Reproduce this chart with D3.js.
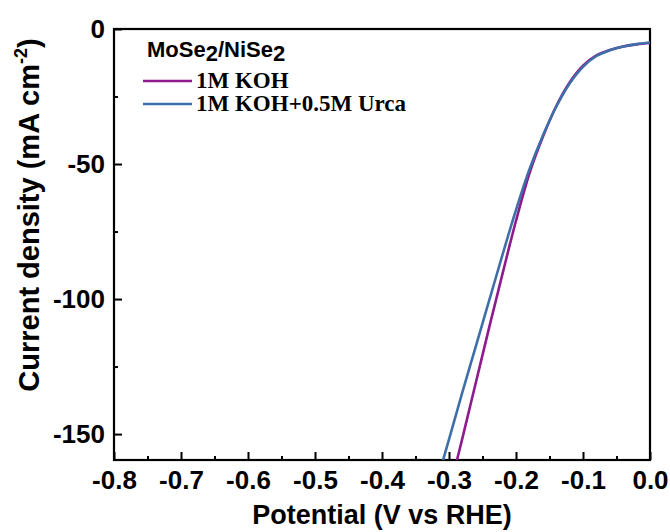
<!DOCTYPE html>
<html lang="en">

<head>
  <meta charset="UTF-8">
  <title>MoSe2/NiSe2 LSV</title>
  <style>
    body { margin: 0; background: #fff; }
  </style>
</head>

<body>
  <script src="https://d3js.org/d3.v7.min.js"></script>
  <script>
    // data
    const potKOH = [0.000, -0.020, -0.040, -0.060, -0.080, -0.100, -0.120, -0.140, -0.160, -0.180, -0.200, -0.220, -0.240, -0.260, -0.280, -0.292];
    const curKOH = [-5.2, -5.7, -6.5, -7.8, -9.8, -13.6, -19.8, -28.6, -40.0, -53.5, -71.0, -90.5, -110.5, -131.0, -151.5, -163.5];
    const potUrea = [0.000, -0.020, -0.040, -0.060, -0.080, -0.100, -0.120, -0.140, -0.160, -0.180, -0.200, -0.220, -0.240, -0.260, -0.280, -0.300, -0.314];
    const curUrea = [-5.0, -5.6, -6.5, -7.9, -10.0, -14.0, -20.2, -28.8, -39.5, -52.0, -67.0, -83.5, -100.5, -117.5, -134.5, -152.0, -164.0];
    const xTicks = [-0.8, -0.7, -0.6, -0.5, -0.4, -0.3, -0.2, -0.1, 0.0];
    const yTicks = [0, -50, -100, -150];
    const seriesNames = ['1M KOH', '1M KOH+0.5M Urca'];

    const width = 670, height = 532;
    const margin = { top: 29, right: 20, bottom: 72, left: 114 };
    const colKOH = '#8E1A8E';
    const colUrea = '#3E6FA8';

    let svg = d3.select('body').append('svg')
      .attr('width', width)
      .attr('height', height);

    let xScale = d3.scaleLinear().domain([-0.8, 0]).range([margin.left, width - margin.right]);
    let yScale = d3.scaleLinear().domain([-159.6, 0]).range([height - margin.bottom, margin.top]);
    const x0 = xScale.range()[0], x1 = xScale.range()[1];
    const yb = yScale.range()[0], yt = yScale.range()[1];

    svg.append('clipPath').attr('id', 'clip')
      .append('rect').attr('x', x0).attr('y', yt).attr('width', x1 - x0).attr('height', yb - yt);

    // minor ticks
    const xMinor = xTicks.slice(0, -1).map(d => d + 0.05);
    const yMinor = [-25, -75, -125];
    svg.append('g').attr('transform', `translate(0,${yb})`)
      .call(d3.axisBottom(xScale).tickValues(xMinor).tickSize(-4).tickFormat(''))
      .call(g => g.select('.domain').remove())
      .call(g => g.selectAll('line').attr('stroke-width', 2));
    svg.append('g').attr('transform', `translate(${x0},0)`)
      .call(d3.axisLeft(yScale).tickValues(yMinor).tickSize(-4).tickFormat(''))
      .call(g => g.select('.domain').remove())
      .call(g => g.selectAll('line').attr('stroke-width', 2));

    // major axes
    svg.append('g').attr('transform', `translate(0,${yb})`)
      .call(d3.axisBottom(xScale).tickValues(xTicks).tickSize(-8).tickPadding(11))
      .call(g => g.select('.domain').remove())
      .call(g => g.selectAll('line').attr('stroke-width', 2))
      .call(g => g.selectAll('text')
        .attr('font-family', 'Liberation Sans, Arial, sans-serif')
        .attr('font-weight', 'bold')
        .attr('font-size', 26)
        .attr('fill', '#000')
        .text(d => d3.format('.1f')(d).replace('−', '-')));
    svg.append('g').attr('transform', `translate(${x0},0)`)
      .call(d3.axisLeft(yScale).tickValues(yTicks).tickSize(-8).tickPadding(9))
      .call(g => g.select('.domain').remove())
      .call(g => g.selectAll('line').attr('stroke-width', 2))
      .call(g => g.selectAll('text')
        .attr('font-family', 'Liberation Sans, Arial, sans-serif')
        .attr('font-weight', 'bold')
        .attr('font-size', 26)
        .attr('fill', '#000')
        .text(d => String(d)));

    // frame
    svg.append('rect')
      .attr('x', x0).attr('y', yt)
      .attr('width', x1 - x0).attr('height', yb - yt)
      .attr('fill', 'none').attr('stroke', '#000').attr('stroke-width', 2.2);

    // curves
    const line = d3.line().curve(d3.curveCatmullRom)
      .x(d => xScale(d[0])).y(d => yScale(d[1]));
    let curves = svg.append('g').attr('clip-path', 'url(#clip)');
    curves.append('path')
      .datum(potKOH.map((p, i) => [p, curKOH[i]]))
      .attr('d', line)
      .attr('fill', 'none').attr('stroke', colKOH).attr('stroke-width', 2.6);
    curves.append('path')
      .datum(potUrea.map((p, i) => [p, curUrea[i]]))
      .attr('d', line)
      .attr('fill', 'none').attr('stroke', colUrea).attr('stroke-width', 2.6);

    // axis titles
    svg.append('text')
      .attr('x', (x0 + x1) / 2).attr('y', 524)
      .attr('text-anchor', 'middle')
      .attr('font-family', 'Liberation Sans, Arial, sans-serif')
      .attr('font-weight', 'bold').attr('font-size', 27)
      .text('Potential (V vs RHE)');
    let yTitle = svg.append('text')
      .attr('transform', 'translate(39,215) rotate(-90)')
      .attr('text-anchor', 'middle')
      .attr('font-family', 'Liberation Sans, Arial, sans-serif')
      .attr('font-weight', 'bold').attr('font-size', 29);
    yTitle.append('tspan').text('Current density (mA cm');
    yTitle.append('tspan').attr('font-size', 18).attr('dy', -12).text('-2');
    yTitle.append('tspan').attr('dy', 12).text(')');

    // legend
    let legend = svg.append('g').classed('legend', true);
    let title = legend.append('text')
      .attr('x', 147).attr('y', 57)
      .attr('font-family', 'Liberation Sans, Arial, sans-serif')
      .attr('font-weight', 'bold').attr('font-size', 22);
    title.append('tspan').text('MoSe');
    title.append('tspan').attr('dy', 4).text('2');
    title.append('tspan').attr('dy', -4).text('/NiSe');
    title.append('tspan').attr('dy', 4).text('2');

    const legY = [81, 104];
    [colKOH, colUrea].forEach((c, i) => {
      legend.append('line')
        .attr('x1', 143).attr('x2', 192)
        .attr('y1', legY[i]).attr('y2', legY[i])
        .attr('stroke', c).attr('stroke-width', 2.6);
      legend.append('text')
        .attr('x', 196).attr('y', legY[i] + 7)
        .attr('font-family', 'Liberation Serif, Times New Roman, serif')
        .attr('font-weight', 'bold').attr('font-size', 23)
        .text(seriesNames[i]);
    });
  </script>
</body>

</html>
